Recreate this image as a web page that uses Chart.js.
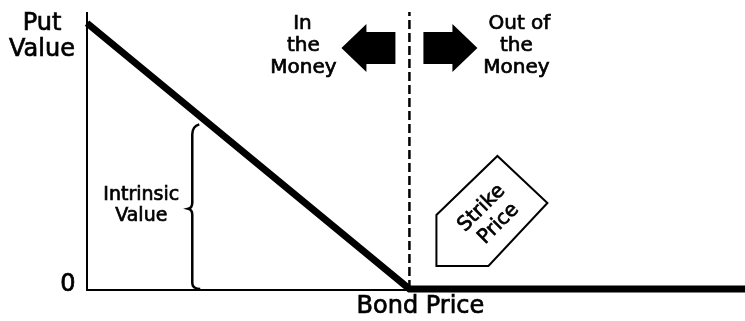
<!DOCTYPE html>
<html>
<head>
<meta charset="utf-8">
<script src="https://cdn.jsdelivr.net/npm/chart.js@4"></script>
<style>
  html, body { margin: 0; padding: 0; background: #fff; }
  #wrap { width: 745px; height: 321px; position: relative; }
</style>
</head>
<body>
<div id="wrap"><canvas id="putChart"></canvas></div>
<script>
// bond price (0-100) vs put value (0-100)
const bondPrices = [0, 49, 100];
const putValues = [96, 0, 0];
const strikePrice = 49;
const braceAt = 16;      // x where intrinsic value brace sits
const braceTop = 58;     // top of the brace (value units)
const yTicks = [0];

const FONT = '"DejaVu Sans", sans-serif';

// axes, arrows, labels and the strike price tag
const decorations = {
  id: 'decorations',
  afterDatasetsDraw(chart) {
    const { ctx, chartArea, scales } = chart;
    const xs = scales.x, ys = scales.y;
    const sx = xs.getPixelForValue(strikePrice);
    const y0 = ys.getPixelForValue(0);

    ctx.save();
    ctx.strokeStyle = '#000';
    ctx.fillStyle = '#000';

    // axis lines
    ctx.lineWidth = 2;
    ctx.beginPath();
    ctx.moveTo(chartArea.left, chartArea.top);
    ctx.lineTo(chartArea.left, y0 + 1);
    ctx.lineTo(chartArea.right, y0 + 1);
    ctx.stroke();

    // brace for intrinsic value
    const bx = xs.getPixelForValue(braceAt);
    const bt = ys.getPixelForValue(braceTop);
    const mid = (bt + y0) / 2;
    ctx.lineWidth = 2.5;
    ctx.beginPath();
    ctx.moveTo(bx + 7, bt - 4);
    ctx.quadraticCurveTo(bx, bt - 2, bx, bt + 6);
    ctx.lineTo(bx, mid - 6);
    ctx.quadraticCurveTo(bx, mid - 1, bx - 4, mid);
    ctx.quadraticCurveTo(bx, mid + 1, bx, mid + 6);
    ctx.lineTo(bx, y0 - 6);
    ctx.quadraticCurveTo(bx, y0, bx + 8, y0);
    ctx.stroke();

    // arrows either side of the strike line
    function arrow(dir) {
      const base = sx + dir * 14;
      ctx.beginPath();
      ctx.moveTo(base, 32);
      ctx.lineTo(base + dir * 29, 32);
      ctx.lineTo(base + dir * 29, 24);
      ctx.lineTo(base + dir * 54, 48);
      ctx.lineTo(base + dir * 29, 72);
      ctx.lineTo(base + dir * 29, 64);
      ctx.lineTo(base, 64);
      ctx.closePath();
      ctx.fill();
    }
    arrow(-1);
    arrow(1);

    // text, lightly stroked to match the heavy print
    function label(txt, x, y) {
      ctx.lineWidth = 0.7;
      ctx.fillText(txt, x, y);
      ctx.strokeText(txt, x, y);
    }
    ctx.textAlign = 'center';
    ctx.textBaseline = 'middle';
    ctx.font = '24px ' + FONT;
    label('Put', 42, 24);
    label('Value', 42, 50);
    label('0', 68, y0 - 4);
    label('Bond Price', sx + 11, 307);

    ctx.font = '20px ' + FONT;
    label('In', sx - 107, 24);
    label('the', sx - 106, 46);
    label('Money', sx - 106, 68);
    label('Out of', sx + 110, 24);
    label('the', sx + 107, 46);
    label('Money', sx + 107, 68);

    ctx.font = '19px ' + FONT;
    label('Intrinsic', bx - 51, 195);
    label('Value', bx - 51, 216);

    // strike price tag
    ctx.lineWidth = 2;
    ctx.beginPath();
    ctx.moveTo(sx + 27, y0 - 23);
    ctx.lineTo(sx + 27, y0 - 74);
    ctx.lineTo(sx + 88, y0 - 133);
    ctx.lineTo(sx + 138, y0 - 86);
    ctx.lineTo(sx + 79, y0 - 23);
    ctx.closePath();
    ctx.stroke();

    ctx.translate(sx + 80, y0 - 73);
    ctx.rotate(-Math.PI / 4);
    ctx.font = '20px ' + FONT;
    label('Strike', 0, -11);
    label('Price', 1, 12);
    ctx.restore();
  }
};

new Chart(document.getElementById('putChart'), {
  type: 'scatter',
  data: {
    datasets: [
      {
        label: 'Put Value',
        data: bondPrices.map((x, i) => ({ x, y: putValues[i] })),
        showLine: true,
        borderColor: '#000',
        borderWidth: 7,
        pointRadius: 0,
        clip: false,
      },
      {
        label: 'Strike',
        data: [{ x: strikePrice, y: 0 }, { x: strikePrice, y: 100 }],
        showLine: true,
        borderColor: '#000',
        borderWidth: 2.5,
        borderDash: [9, 4],
        pointRadius: 0,
        clip: false,
      },
    ],
  },
  options: {
    responsive: true,
    maintainAspectRatio: false,
    animation: false,
    layout: { padding: { left: 87, top: 12, right: 0, bottom: 32 } },
    plugins: { legend: { display: false }, tooltip: { enabled: false } },
    scales: {
      x: { type: 'linear', min: 0, max: 100, display: false },
      y: { type: 'linear', min: 0, max: 100, display: false, ticks: { values: yTicks } },
    },
  },
  plugins: [decorations],
});
</script>
</body>
</html>
